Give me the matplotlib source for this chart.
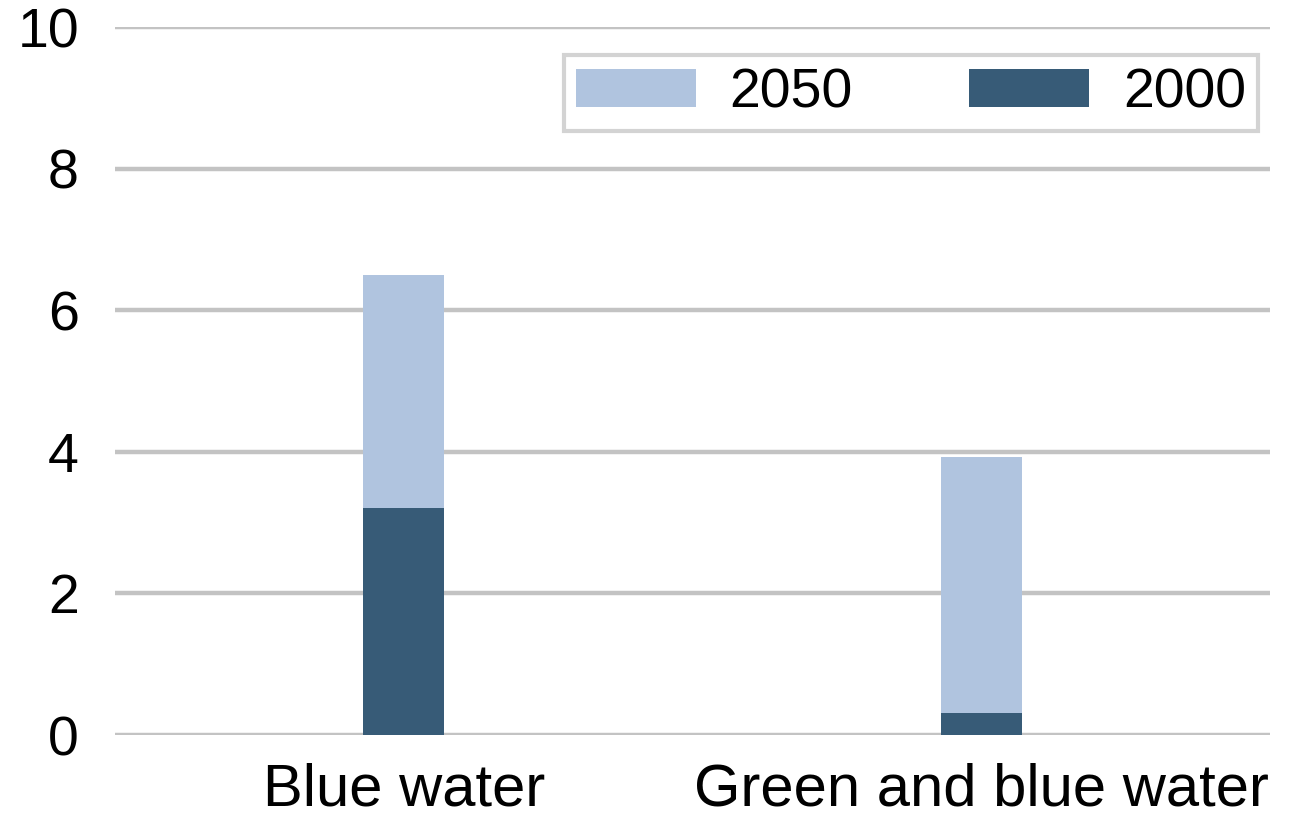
import matplotlib
matplotlib.use('Agg')
import matplotlib.pyplot as plt
import numpy as np

plt.rcParams['font.family'] = ['Liberation Sans', 'DejaVu Sans']

# 資料
categories = ['Blue water', 'Green and blue water']
values_2050 = [6.5, 3.92]
values_2000 = [3.2, 0.31]
yticks = [0, 2, 4, 6, 8, 10]

color_2050 = '#b0c4df'
color_2000 = '#375b77'
grid_color = '#c3c3c3'


def main():
    fig = plt.figure(figsize=(13.11, 8.19), dpi=100)
    ax = fig.add_axes([115 / 1311, 1 - 735 / 819, (1270 - 115) / 1311, (735 - 27) / 819])

    x = np.arange(len(categories))
    ax.bar(x, values_2050, width=0.14, color=color_2050, label='2050', zorder=3)
    ax.bar(x, values_2000, width=0.14, color=color_2000, label='2000', zorder=4)

    ax.set_xlim(-0.5, 1.5)
    ax.set_ylim(0, 10)
    ax.set_yticks(yticks)
    ax.set_xticks(x)
    ax.set_xticklabels(categories)
    ax.yaxis.grid(True, color=grid_color, linewidth=3.2, zorder=0)
    ax.set_axisbelow(True)
    for s in ax.spines.values():
        s.set_visible(False)
    ax.tick_params(axis='y', length=0, pad=26, labelsize=40)
    ax.tick_params(axis='x', length=0, pad=20, labelsize=43)

    # legend 外框
    leg = ax.legend(loc='upper right', bbox_to_anchor=(1258 / 1311, 1 - 55 / 819),
                    bbox_transform=fig.transFigure, ncol=2, fontsize=40,
                    frameon=True, fancybox=False, handlelength=2.16, handleheight=0.67,
                    columnspacing=2.1, handletextpad=0.6, borderpad=0.22,
                    borderaxespad=0)
    frame = leg.get_frame()
    frame.set_edgecolor('#c8c8c8')
    frame.set_linewidth(3)

    fig.savefig('out.png', dpi=100)


if __name__ == '__main__':
    main()
